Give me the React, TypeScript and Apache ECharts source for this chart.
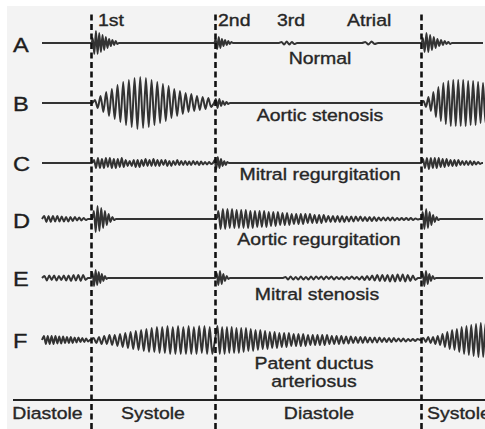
import React, { useEffect, useRef } from "react";
import * as echarts from "echarts";

// ---- text content ----
const traceLetters = ["A", "B", "C", "D", "E", "F"];
const traceNames = [
  "Normal",
  "Aortic stenosis",
  "Mitral regurgitation",
  "Aortic regurgitation",
  "Mitral stenosis",
  "Patent ductus\narteriosus",
];
const soundLabels = ["1st", "2nd", "3rd", "Atrial"];
const phaseLabels = ["Diastole", "Systole", "Diastole", "Systole"];

// ---- time axis (arbitrary units along the recording) ----
const phaseBoundaries = [91, 215, 421.5];
const traceStart = 42;
const traceEnd = 483;

// ---- bursts: [start, end, successive peak amplitudes (alternating sign)] ----
const traceA = [
  [91, 119, [5, 11, 12, 11, 10, 9, 8, 7, 6, 5, 4, 3, 3, 2, 2, 1]],
  [214, 233, [4, 6, 6, 5, 4, 3, 3, 2, 2, 1, 1]],
  [279, 297, [1, 1.5, 1.5, 1.5, 1, 1]],
  [362, 378, [1, 1.5, 1.5, 1]],
  [421, 452, [5, 9, 10, 9, 8, 7, 6, 5, 4, 3, 3, 2, 2, 1, 1, 1]],
];
const traceB = [
  [92, 214, [3, 5, 7, 9, 11, 13, 14, 16, 18, 19, 21, 22, 23, 24, 25, 26, 26, 25, 25, 24, 23, 22, 21, 20, 19, 18, 17, 15, 14, 13, 12, 11, 10, 9, 9, 8, 7, 7, 6, 6, 5, 4]],
  [214, 230, [4, 5, 4, 3, 2, 2, 1, 1]],
  [421, 488, [2, 4, 6, 8, 11, 14, 16, 18, 20, 21, 22, 23, 23, 23, 23, 23, 23, 23, 22, 22, 22, 22, 21, 20, 20, 20]],
];
const traceC = [
  [92, 213, [3, 5, 5, 5, 4, 5, 5, 4, 5, 5, 4, 5, 4, 4, 5, 4, 3, 3, 2, 3, 3, 4, 3, 4, 3, 3, 4, 3, 3, 3, 4, 3, 3, 3, 3, 2, 3, 3, 2, 3, 2, 2, 3, 2, 2, 2, 2, 2, 1.5, 2, 2, 1.5, 1.5, 2, 1.5, 1.5, 1, 1.5, 1, 1]],
  [213, 229, [3, 6, 6, 5, 4, 3, 2, 2, 1]],
  [421, 482, [4, 5, 5, 6, 5, 5, 5, 5, 5, 4, 4, 4, 4, 3, 3, 3, 3, 3, 3, 2, 2, 2, 2, 2, 2, 2, 1.5, 1.5, 1, 1]],
];
const traceD = [
  [42, 88, [3, 3, 3, 3, 3, 2.5, 3, 2.5, 2.5, 2.5, 2, 2.5, 2, 2, 2, 1.5, 1.5, 1.5, 1, 1]],
  [92, 116, [8, 13, 13, 12, 11, 9, 8, 6, 5, 3, 2, 1]],
  [216, 420, [8, 10, 10, 10, 10, 9, 10, 9, 9, 9, 9, 9, 9, 9, 8, 9, 8, 8, 8, 8, 8, 8, 7, 7, 7, 7, 7, 6, 6, 6, 6, 6, 5, 5, 5, 5, 5, 5, 5, 4, 5, 4, 4, 4, 4, 4, 4, 3, 3, 3, 3, 3, 3, 3, 3, 3, 2.5, 2.5, 2.5, 2.5, 2.5, 2, 2.5, 2, 2, 2, 2, 2, 2, 2, 1.5, 1.5, 1.5, 1.5, 1.5, 1.5, 1.5, 1.5, 1, 1, 1, 1, 1, 1, 1, 1, 0.5, 0.5]],
  [421, 440, [7, 10, 10, 9, 7, 6, 4, 3, 2, 1]],
];
const traceE = [
  [42, 88, [2, 2.5, 2.5, 2, 2.5, 2.5, 2, 2, 2.5, 2.5, 2.5, 3, 3, 2.5, 3, 3, 3, 2]],
  [91, 108, [5, 8, 8, 7, 6, 5, 4, 3, 2, 1]],
  [215, 230, [5, 7, 7, 6, 4, 3, 2, 1]],
  [283, 418, [1, 1.5, 1.5, 1.5, 1, 1.5, 1.5, 1.5, 1, 1.5, 1.5, 1.5, 1.5, 1, 1.5, 1.5, 1.5, 1, 1.5, 1.5, 1, 1, 1, 1.5, 1, 1, 1.5, 1, 1, 1.5, 1.5, 2, 2, 2, 2.5, 2.5, 3, 3, 3, 3, 3, 3.5, 3, 3.5, 3.5, 3, 3.5, 3.5, 3, 3, 2.5, 2]],
  [421, 436, [5, 8, 7, 6, 4, 3, 2, 1]],
];
const traceF = [
  [42, 90, [4, 4, 4, 4, 4, 4, 4, 3.5, 3.5, 3.5, 3.5, 3, 3, 3, 3, 3, 2.5, 2.5, 2.5, 2, 2, 2, 1.5, 1.5]],
  [91, 215, [2, 3, 3, 4, 4, 4, 5, 5, 5, 6, 6, 7, 7, 8, 8, 9, 9, 10, 10, 11, 11, 12, 12, 12, 13, 13, 13, 13, 14, 14, 13, 14, 14, 14, 13, 14, 14, 14, 13, 14, 14, 13, 14, 14, 13, 14]],
  [215, 420, [14, 14, 13, 14, 13, 13, 13, 13, 12, 13, 12, 12, 12, 11, 11, 11, 10, 10, 10, 9, 9, 9, 8, 8, 8, 8, 7, 7, 7, 7, 7, 6, 6, 6, 6, 6, 6, 6, 5, 5, 5, 5, 5, 5, 5, 5, 5, 4, 4, 4, 4, 4, 4, 3.5, 3.5, 3.5, 3.5, 3, 3, 3, 3, 3, 3, 2.5, 2.5, 2.5, 2.5, 2.5, 2.5, 2, 2, 2, 2, 2, 2, 1.5, 1.5, 1.5, 1.5, 1.5, 1, 1, 1, 1, 1]],
  [421, 488, [2, 2, 3, 3, 3, 4, 4, 5, 6, 7, 8, 9, 10, 10, 11, 12, 13, 14, 14, 15, 15, 16, 16, 17, 17, 17, 17]],
];
const traces = [traceA, traceB, traceC, traceD, traceE, traceF];

function buildLine(bursts: any[]) {
  const pts: number[][] = [[traceStart, 0]];
  let lastEnd = traceStart;
  bursts.forEach(([x0, x1, amps]: [number, number, number[]]) => {
    pts.push([x0, 0]);
    const step = (x1 - x0) / (amps.length + 1);
    amps.forEach((a, i) => {
      pts.push([x0 + step * (i + 1), (i % 2 === 0 ? 1 : -1) * a]);
    });
    pts.push([x1, 0]);
    lastEnd = x1;
  });
  if (lastEnd < traceEnd) pts.push([traceEnd, 0]);
  return pts;
}

export default function App() {
  const ref = useRef<HTMLDivElement>(null);
  useEffect(() => {
    if (!ref.current) return;
    const chart = echarts.init(ref.current, null, { renderer: "svg" });

    const baselines = [43, 103, 163, 219, 278, 340];
    const half = 30;
    const font = "'Liberation Sans', Arial, Helvetica, sans-serif";
    const sx = 1.18;

    const grids: any[] = baselines.map((b) => ({
      left: 0,
      right: 0,
      top: b - half,
      height: half * 2,
    }));
    grids.push({ left: 0, right: 0, top: 12, bottom: 0 });

    const xAxes = grids.map((_, i) => ({
      type: "value",
      gridIndex: i,
      min: 0,
      max: 485,
      show: false,
    }));
    const yAxes = grids.map((_, i) => ({
      type: "value",
      gridIndex: i,
      min: i < 6 ? -half : 0,
      max: i < 6 ? half : 1,
      show: false,
    }));

    const series: any[] = traces.map((t, i) => ({
      type: "line",
      xAxisIndex: i,
      yAxisIndex: i,
      data: buildLine(t),
      symbol: "none",
      smooth: 0.25,
      clip: true,
      lineStyle: { color: "#333333", width: 2 },
      silent: true,
    }));
    series.push({
      type: "line",
      xAxisIndex: 6,
      yAxisIndex: 6,
      data: [[0, 0]],
      symbol: "none",
      lineStyle: { opacity: 0 },
      silent: true,
      markLine: {
        silent: true,
        symbol: "none",
        label: { show: false },
        lineStyle: { color: "#111", width: 2.6, type: [6, 3.5] },
        data: phaseBoundaries.map((x) => ({ xAxis: x })),
      },
    });

    const txt = (text: string, x: number, y: number, size: number, align: string, color = "#262626", lh?: number) => ({
      type: "text",
      x,
      y,
      scaleX: sx,
      originX: 0,
      originY: 0,
      style: {
        text,
        x: 0,
        y: 0,
        fill: color,
        stroke: color,
        lineWidth: 0.35,
        font: `${size}px ${font}`,
        textAlign: align,
        textVerticalAlign: "middle",
        lineHeight: lh,
      },
      silent: true,
    });

    const letterY = [45, 104, 164, 221, 279, 341];
    const nameX = [320, 320, 320, 319, 317, 314];
    const nameY = [59, 116, 175, 240, 295, 373];
    const soundX = [98, 218, 277, 347];
    const phaseX = [47.5, 153, 319, 427];
    const phaseAlign = ["center", "center", "center", "left"];

    const graphic: any[] = [
      {
        type: "rect",
        shape: { x: 7, y: 6, width: 478, height: 423 },
        style: { fill: "#f3f3f3" },
        z: -10,
        silent: true,
      },
      {
        type: "line",
        shape: { x1: 13, y1: 400, x2: 485, y2: 400 },
        style: { stroke: "#222", lineWidth: 2 },
        silent: true,
      },
      ...traceLetters.map((l, i) => txt(l, 13, letterY[i], 20, "left", "#1e1e1e")),
      ...traceNames.map((n, i) => txt(n, nameX[i], nameY[i], 16.5, "center", "#262626", 18)),
      ...soundLabels.map((s, i) => txt(s, soundX[i], 21, 16.5, "left")),
      ...phaseLabels.map((p, i) => txt(p, phaseX[i], 414, 16.5, phaseAlign[i])),
    ];

    chart.setOption({
      animation: false,
      backgroundColor: "#ffffff",
      grid: grids,
      xAxis: xAxes,
      yAxis: yAxes,
      series,
      graphic,
    });
    return () => chart.dispose();
  }, []);

  return (
    <div
      ref={ref}
      style={{ position: "absolute", left: 0, top: 0, width: 485, height: 429 }}
    />
  );
}
